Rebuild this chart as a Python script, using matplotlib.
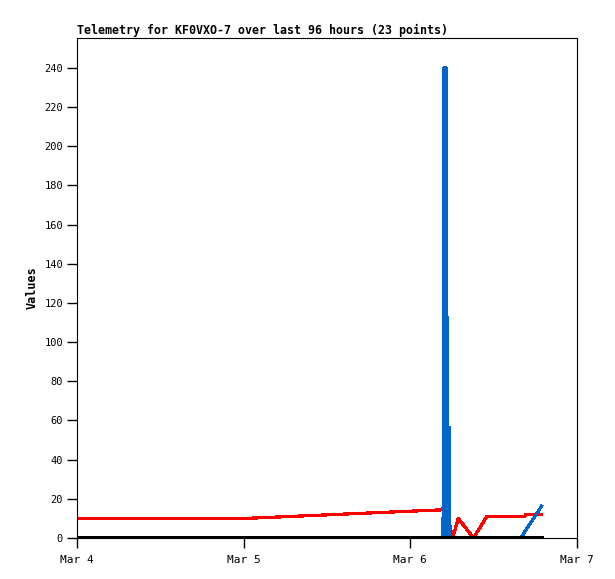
import matplotlib.pyplot as plt
import pandas as pd

# 起点时间（Mar 4 00:00），各序列时间用小时偏移表示
start = pd.Timestamp('2024-03-04')

# 红色序列
red_hours = [0, 24.3, 52.6, 52.7, 53.6, 54.1, 54.9, 57.1, 59.0, 64.5, 64.6, 66.9]
red_values = [10, 10, 14.4, 15.2, 7.6, 0, 10, 0, 10.9, 10.9, 11.9, 11.9]

# 蓝色序列（尖峰 + 末尾上升）
blue_hours = [52.6, 52.6, 52.85, 52.85, 53.13, 53.13, 53.4, 53.4, 53.65, 53.65, 63.9, 66.9]
blue_values = [0, 10, 10, 240, 240, 112.5, 112.5, 56.5, 56.5, 0, 0, 16.3]

# 黑色序列（始终为0）
black_hours = [0, 66.9]
black_values = [0, 0]

x_ticks = ['Mar 4', 'Mar 5', 'Mar 6', 'Mar 7']
y_ticks = list(range(0, 241, 20))

title = 'Telemetry for KF0VXO-7 over last 96 hours (23 points)'
mono = 'DejaVu Sans Mono'


def to_time(hours):
    return [start + pd.Timedelta(hours=h) for h in hours]


fig = plt.figure(figsize=(6.15, 5.79), dpi=100)
ax = fig.add_axes([77 / 615, 41 / 579, 500 / 615, 500 / 579])

ax.plot(to_time(red_hours), red_values, color='#ff0000', lw=1.6, antialiased=False, zorder=2)
# 尖峰部分填充，看起来像实心块
ax.fill_between(to_time(blue_hours[:10]), blue_values[:10], color='#0066cc',
                lw=0, zorder=3)
ax.plot(to_time(blue_hours), blue_values, color='#0066cc', lw=1.6, antialiased=False, zorder=3)
ax.plot(to_time(black_hours), black_values, color='black', lw=2.8, antialiased=False, zorder=4)

tick_pos = to_time([0, 24, 48, 72])
ax.set_xlim(tick_pos[0], tick_pos[-1])
ax.set_xticks(tick_pos)
ax.set_xticklabels(x_ticks, family=mono, fontsize=8)
ax.set_ylim(0, 255.3)
ax.set_yticks(y_ticks)
ax.set_yticklabels([str(v) for v in y_ticks], family=mono, fontsize=7.5)

ax.tick_params(direction='out', length=7, width=1, color='black', pad=3)
ax.tick_params(axis='x', pad=5)
for s in ax.spines.values():
    s.set_linewidth(0.8)
    s.set_color('black')

ax.set_ylabel('Values', family=mono, fontsize=8.5, fontweight='bold', labelpad=4)
ax.set_title(title, family=mono, fontsize=8.4, fontweight='bold', loc='left', pad=3)

fig.savefig('out.png', dpi=100)
